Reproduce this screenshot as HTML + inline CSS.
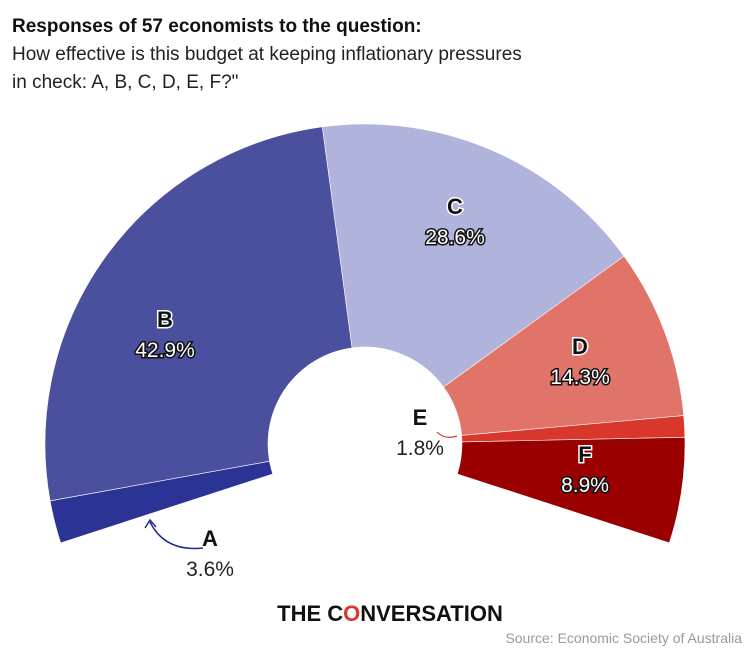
<!DOCTYPE html>
<html><head><meta charset="utf-8"><style>
body{margin:0;background:#fff;width:754px;height:657px;overflow:hidden;font-family:"Liberation Sans",sans-serif}
</style></head><body>
<svg id="chart" width="754" height="657">
<text x="12" y="32" font-size="19" font-weight="bold" fill="#111">Responses of 57 economists to the question:</text>
<text x="12" y="60" font-size="19" fill="#222">How effective is this budget at keeping inflationary pressures</text>
<text x="12" y="88" font-size="19" fill="#222">in check: A, B, C, D, E, F?"</text>
<g id="slices"></g>
<g id="labels"></g>
<path d="M203,548 Q165,552 150,522" fill="none" stroke="#1f2a8c" stroke-width="1.5"/>
<path d="M145,528 L150,520 L156,527" fill="none" stroke="#1f2a8c" stroke-width="1.5"/>
<path d="M437,432 Q445,440 457,436" fill="none" stroke="#d9372b" stroke-width="1.2"/>
<text x="390" y="621" font-size="22" font-weight="bold" text-anchor="middle" fill="#111">THE C<tspan fill="#d9372b">O</tspan>NVERSATION</text>
<text x="742" y="643" font-size="14" text-anchor="end" fill="#999">Source: Economic Society of Australia</text>
</svg>
<script>
const categories=["A","B","C","D","E","F"];
const values=[3.6,42.9,28.6,14.3,1.8,8.9];
const colors=["#2b3494","#4a4f9e","#b0b3db","#e07468","#d9372b","#9b0000"];
const cx=365,cy=444,R=320,r=97,start=-18,span=216;
const total=values.reduce((a,b)=>a+b,0);
const ns="http://www.w3.org/2000/svg";
function pt(deg,rad){const t=deg*Math.PI/180;return [cx-rad*Math.cos(t),cy-rad*Math.sin(t)];}
let acc=0;const sg=document.getElementById('slices');
values.forEach((v,i)=>{
 const a0=start+acc/total*span;acc+=v;const a1=start+acc/total*span;
 const large=(a1-a0)>180?1:0;
 const p0=pt(a0,R),p1=pt(a1,R),q1=pt(a1,r),q0=pt(a0,r);
 const p=document.createElementNS(ns,'path');
 p.setAttribute('d',`M${p0[0]},${p0[1]} A${R},${R} 0 ${large} 1 ${p1[0]},${p1[1]} L${q1[0]},${q1[1]} A${r},${r} 0 ${large} 0 ${q0[0]},${q0[1]} Z`);
 p.setAttribute('fill',colors[i]);p.setAttribute('stroke','#fff');p.setAttribute('stroke-width','0.6');
 
 
 sg.appendChild(p);
});
const labelPos=[[210,576,false],[165,357,true],[455,244,true],[580,384,true],[420,455,false],[585,492,true]];
const lg=document.getElementById('labels');
categories.forEach((c,i)=>{
 const [x,y,outl]=labelPos[i];
 const t1=document.createElementNS(ns,'text');
 t1.setAttribute('x',x);t1.setAttribute('y',y-30);t1.setAttribute('text-anchor','middle');
 t1.setAttribute('font-size','22');t1.setAttribute('font-weight','bold');t1.setAttribute('fill','#111');
 t1.setAttribute('stroke','#fff');t1.setAttribute('stroke-width','3');t1.setAttribute('paint-order','stroke');
 t1.textContent=c;
 
 
 lg.appendChild(t1);
 const t2=document.createElementNS(ns,'text');
 t2.setAttribute('x',x);t2.setAttribute('y',y);t2.setAttribute('text-anchor','middle');
 t2.setAttribute('font-size','21');
 if(outl){t2.setAttribute('fill','#fff');t2.setAttribute('stroke','#111');t2.setAttribute('stroke-width','3');t2.setAttribute('paint-order','stroke');}
 else t2.setAttribute('fill','#222');
 t2.textContent=values[i].toFixed(1)+'%';
 
 
 lg.appendChild(t2);
});
</script>
</body></html>
